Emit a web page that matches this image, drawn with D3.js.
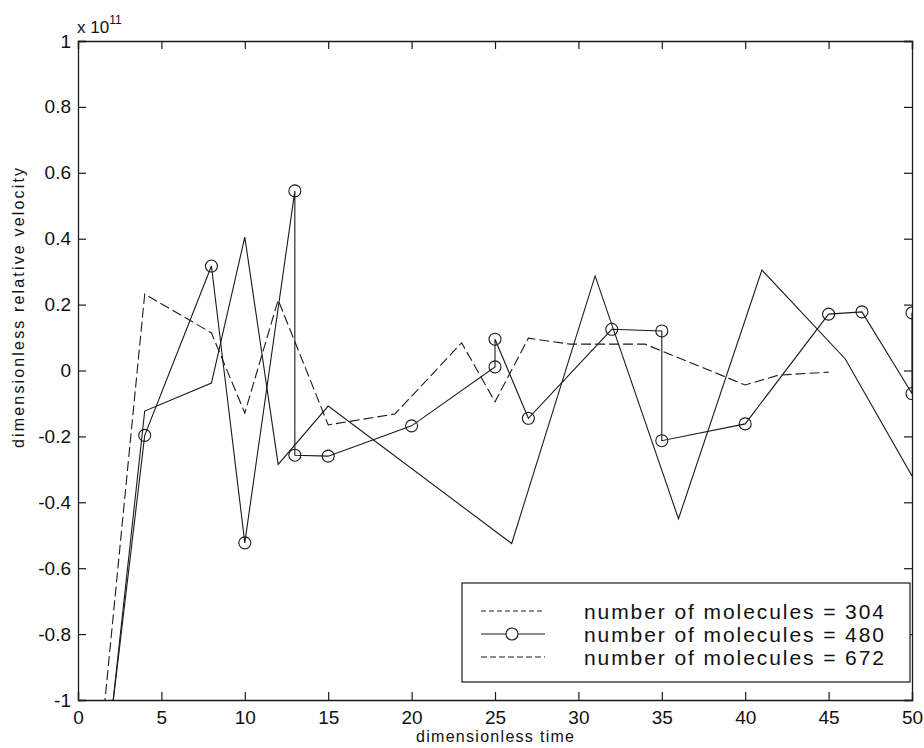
<!DOCTYPE html>
<html>
<head>
<meta charset="utf-8">
<script src="https://cdn.jsdelivr.net/npm/d3@7"></script>
<style>
  html, body { margin: 0; padding: 0; background: #fff; }
  svg { display: block; }
  text { font-family: "Liberation Sans", Arial, Helvetica, sans-serif; fill: #111; }
</style>
</head>
<body>
<div id="chart"></div>
<script>
// ---- data (values in units of 1e11) ----
const t304 = [2, 4, 8, 10, 12, 15, 26, 31, 36, 41, 46, 50];
const v304 = [-1.05, -0.123, -0.038, 0.405, -0.285, -0.108, -0.525, 0.287, -0.45, 0.305, 0.035, -0.32];

const t480 = [2, 4, 8, 10, 13, 13, 15, 20, 25, 25, 27, 32, 35, 35, 40, 45, 47, 50, 50];
const v480 = [-1.05, -0.197, 0.317, -0.523, 0.545, -0.257, -0.26, -0.168, 0.011, 0.095, -0.145, 0.125, 0.12, -0.213, -0.162, 0.171, 0.178, -0.07, 0.175];

const t672 = [1, 4, 8, 10, 12, 15, 19, 23, 25, 27, 29.5, 34, 40, 42, 45];
const v672 = [-1.32, 0.232, 0.114, -0.129, 0.214, -0.165, -0.132, 0.084, -0.095, 0.098, 0.08, 0.08, -0.044, -0.014, -0.005];

const xTicks = [0, 5, 10, 15, 20, 25, 30, 35, 40, 45, 50];
const yTicks = [-1, -0.8, -0.6, -0.4, -0.2, 0, 0.2, 0.4, 0.6, 0.8, 1];
const yTickLabels = ["-1", "-0.8", "-0.6", "-0.4", "-0.2", "0", "0.2", "0.4", "0.6", "0.8", "1"];
const legendLabels = ["number of molecules = 304", "number of molecules = 480", "number of molecules = 672"];

// ---- layout ----
const W = 924, H = 748;
const L = 78, R = 912, T = 41, B = 700;

const svg = d3.select("#chart").append("svg").attr("width", W).attr("height", H);

const x = d3.scaleLinear().domain([0, 50]).range([L, R]);
const y = d3.scaleLinear().domain([-1, 1]).range([B, T]);

svg.append("defs").append("clipPath").attr("id", "clip")
  .append("rect").attr("x", L).attr("y", T).attr("width", R - L).attr("height", B - T);

const ink = "#1a1a1a";

// axes (box with inward ticks)
const gB = svg.append("g").attr("transform", `translate(0,${B})`)
  .call(d3.axisBottom(x).tickValues(xTicks).tickSize(-8).tickPadding(14).tickFormat(d3.format("d")));
const gT = svg.append("g").attr("transform", `translate(0,${T})`)
  .call(d3.axisTop(x).tickValues(xTicks).tickSize(-8).tickFormat(""));
const gL = svg.append("g").attr("transform", `translate(${L},0)`)
  .call(d3.axisLeft(y).tickValues(yTicks).tickSize(-8).tickPadding(6)
    .tickFormat((d, i) => yTickLabels[i]));
const gR = svg.append("g").attr("transform", `translate(${R},0)`)
  .call(d3.axisRight(y).tickValues(yTicks).tickSize(-8).tickFormat(""));

[gB, gT, gL, gR].forEach(g => {
  g.select(".domain").attr("stroke", ink).attr("stroke-width", 1.3);
  g.selectAll(".tick line").attr("stroke", ink).attr("stroke-width", 1.2);
  g.selectAll(".tick text").attr("font-size", 19).attr("fill", "#111")
    .attr("font-family", "'Liberation Sans', Arial, sans-serif");
});
gB.selectAll(".tick text").attr("dy", "0.55em");
gL.selectAll(".tick text").attr("dx", "-1");

// exponent label
const expo = svg.append("text").attr("x", L - 1).attr("y", T - 8).attr("font-size", 17);
expo.append("tspan").text("x 10");
expo.append("tspan").attr("dy", -9).attr("font-size", 12).text("11");

// axis labels
svg.append("text").attr("x", (L + R) / 2).attr("y", 742).attr("text-anchor", "middle")
  .attr("font-size", 16).attr("textLength", 158).attr("lengthAdjust", "spacing")
  .text("dimensionless time");
svg.append("text").attr("transform", `translate(24,308) rotate(-90)`)
  .attr("text-anchor", "middle").attr("font-size", 16)
  .attr("textLength", 280).attr("lengthAdjust", "spacing")
  .text("dimensionless relative velocity");

// lines
const plot = svg.append("g").attr("clip-path", "url(#clip)");
const line = d3.line().x(d => x(d[0])).y(d => y(d[1]));

const d304 = t304.map((t, i) => [t, v304[i]]);
const d480 = t480.map((t, i) => [t, v480[i]]);
const d672 = t672.map((t, i) => [t, v672[i]]);

plot.append("path").datum(d304).attr("d", line).attr("fill", "none")
  .attr("stroke", ink).attr("stroke-width", 1.1);
plot.append("path").datum(d672).attr("d", line).attr("fill", "none")
  .attr("stroke", ink).attr("stroke-width", 1.1).attr("stroke-dasharray", "10,4");
plot.append("path").datum(d480).attr("d", line).attr("fill", "none")
  .attr("stroke", ink).attr("stroke-width", 1.1);
plot.selectAll("circle.m").data(d480.filter(d => d[1] >= -1 && d[1] <= 1)).enter()
  .append("circle").attr("class", "m")
  .attr("cx", d => x(d[0])).attr("cy", d => y(d[1])).attr("r", 6)
  .attr("fill", "none").attr("stroke", ink).attr("stroke-width", 1.1);

// legend
const lg = svg.append("g");
lg.append("rect").attr("x", 462).attr("y", 583).attr("width", 448).attr("height", 99)
  .attr("fill", "#fff").attr("stroke", ink).attr("stroke-width", 1.2);
const rows = [611, 634, 657];
const dashes = ["5,3", null, "6,3"];
legendLabels.forEach((lab, i) => {
  const yy = rows[i];
  const ln = lg.append("line").attr("x1", 481).attr("x2", 545).attr("y1", yy).attr("y2", yy)
    .attr("stroke", ink).attr("stroke-width", 1.1);
  if (dashes[i]) ln.attr("stroke-dasharray", dashes[i]);
  if (i === 1) lg.append("circle").attr("cx", 512).attr("cy", yy).attr("r", 6)
    .attr("fill", "#fff").attr("stroke", ink).attr("stroke-width", 1.1);
  lg.append("text").attr("x", 584).attr("y", yy).attr("dy", "0.36em")
    .attr("font-size", 21).attr("textLength", 300).attr("lengthAdjust", "spacing").text(lab);
});
</script>
</body>
</html>
